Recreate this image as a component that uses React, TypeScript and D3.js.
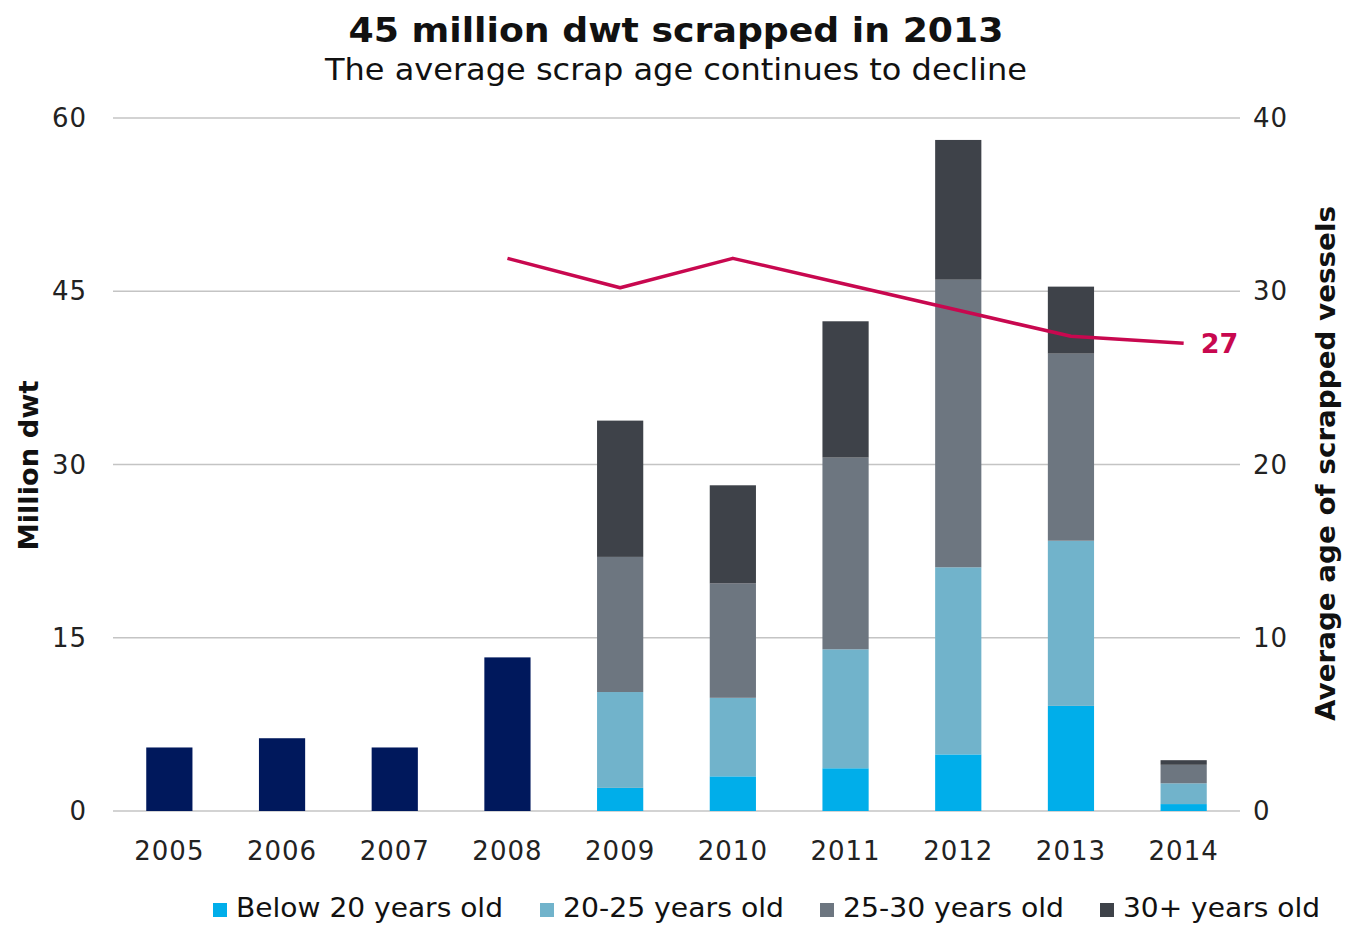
import React from 'react';
import * as d3 from 'd3';

const years = ['2005', '2006', '2007', '2008', '2009', '2010', '2011', '2012', '2013', '2014'];
const totalOnly = [5.5, 6.3, 5.5, 13.3, 0, 0, 0, 0, 0, 0];
const below20 = [0, 0, 0, 0, 2.0, 3.0, 3.7, 4.9, 9.1, 0.6];
const age20to25 = [0, 0, 0, 0, 8.3, 6.8, 10.3, 16.2, 14.3, 1.8];
const age25to30 = [0, 0, 0, 0, 11.7, 9.9, 16.6, 24.9, 16.2, 1.6];
const age30plus = [0, 0, 0, 0, 11.8, 8.5, 11.8, 12.1, 5.8, 0.4];
const avgAge: (number | null)[] = [null, null, null, 31.9, 30.2, 31.9, 30.4, 28.9, 27.4, 27.0];
const leftTicks = [0, 15, 30, 45, 60];
const rightTicks = [0, 10, 20, 30, 40];
const seriesNames = ['Below 20 years old', '20-25 years old', '25-30 years old', '30+ years old'];
const seriesColors = ['#00AEEA', '#71B3CB', '#6D7680', '#3E4249'];
const totalColor = '#00185C';
const lineColor = '#C8084F';

const W = 1346, H = 925;
const L = 113, R = 1240, T = 118, B = 811;
const FONT = '"DejaVu Sans", Verdana, sans-serif';

export default function App() {
  const x = d3.scaleBand<string>().domain(years).range([L, R]).paddingInner(0.59).paddingOuter(0.295);
  const y = d3.scaleLinear().domain([0, 60]).range([B, T]);
  const y2 = d3.scaleLinear().domain([0, 40]).range([B, T]);

  const stackRows = years.map((yr, i) => ({
    year: yr,
    s0: below20[i], s1: age20to25[i], s2: age25to30[i], s3: age30plus[i],
  }));
  const stack = d3.stack<any>().keys(['s0', 's1', 's2', 's3'])(stackRows);

  const lineGen = d3.line<[string, number | null]>()
    .defined(d => d[1] !== null)
    .x(d => (x(d[0]) as number) + x.bandwidth() / 2)
    .y(d => y2(d[1] as number));
  const linePts = years.map((yr, i) => [yr, avgAge[i]] as [string, number | null]);
  const lastIdx = avgAge.length - 1;

  const legendX = [213, 540, 820, 1100];
  const legendW = [267, 221, 221, 197];

  return (
    <svg width={W} height={H} style={{ position: 'absolute', left: 0, top: 0, background: '#fff' }} fontFamily={FONT}>
      <text x={676} y={42} textAnchor="middle" fontSize={33} fontWeight="bold" fill="#111" textLength={655} lengthAdjust="spacingAndGlyphs">45 million dwt scrapped in 2013</text>
      <text x={676} y={80} textAnchor="middle" fontSize={30} fill="#111" textLength={702} lengthAdjust="spacingAndGlyphs">The average scrap age continues to decline</text>

      {leftTicks.map(t => (
        <g key={'g' + t}>
          <line x1={L} x2={R} y1={y(t)} y2={y(t)} stroke="#C4C4C4" strokeWidth={1.5} />
          <text x={87} y={y(t) + 9} textAnchor="end" fontSize={26} fill="#222" letterSpacing={1}>{t}</text>
        </g>
      ))}
      {rightTicks.map(t => (
        <text key={'r' + t} x={1253} y={y2(t) + 9} textAnchor="start" fontSize={26} fill="#222" letterSpacing={1}>{t}</text>
      ))}

      {years.map((yr, i) => totalOnly[i] > 0 ? (
        <rect key={'t' + yr} x={x(yr)} y={y(totalOnly[i])} width={x.bandwidth()} height={B - y(totalOnly[i])} fill={totalColor} />
      ) : null)}

      {stack.map((layer, k) => (
        <g key={'s' + k}>
          {layer.map((d, i) => (d[1] - d[0] > 0 ? (
            <rect key={i} x={x(years[i])} y={y(d[1])} width={x.bandwidth()} height={y(d[0]) - y(d[1])} fill={seriesColors[k]} />
          ) : null))}
        </g>
      ))}

      <path d={lineGen(linePts) || ''} fill="none" stroke={lineColor} strokeWidth={3.5} strokeLinejoin="round" />
      <text x={(x(years[lastIdx]) as number) + x.bandwidth() / 2 + 17} y={y2(avgAge[lastIdx] as number) + 10} fontSize={27} fontWeight="bold" fill={lineColor}>{avgAge[lastIdx]}</text>

      {years.map(yr => (
        <text key={'x' + yr} x={(x(yr) as number) + x.bandwidth() / 2} y={860} textAnchor="middle" fontSize={26} fill="#222" letterSpacing={1}>{yr}</text>
      ))}

      <text transform={`translate(38,${(T + B) / 2 + 1}) rotate(-90)`} textAnchor="middle" fontSize={27} fontWeight="bold" fill="#111" textLength={170} lengthAdjust="spacingAndGlyphs">Million dwt</text>
      <text transform={`translate(1335,${(T + B) / 2 - 1}) rotate(-90)`} textAnchor="middle" fontSize={27} fontWeight="bold" fill="#111" textLength={515} lengthAdjust="spacingAndGlyphs">Average age of scrapped vessels</text>

      {seriesNames.map((n, k) => (
        <g key={'l' + k}>
          <rect x={legendX[k]} y={903} width={14} height={14} fill={seriesColors[k]} />
          <text x={legendX[k] + 23} y={917} fontSize={27} fill="#111" textLength={legendW[k]} lengthAdjust="spacingAndGlyphs">{n}</text>
        </g>
      ))}
    </svg>
  );
}
